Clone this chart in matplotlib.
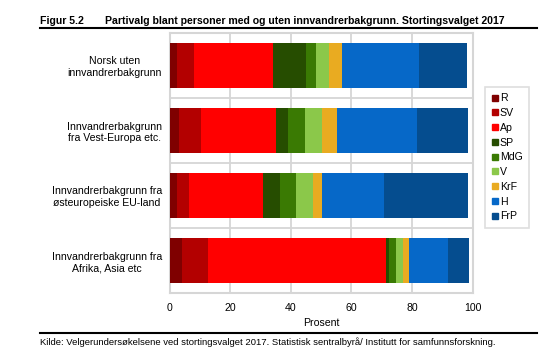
import matplotlib
matplotlib.use("Agg")
import matplotlib.pyplot as plt
from matplotlib.lines import Line2D
import numpy as np

plt.rcParams['font.family'] = ['Liberation Sans', 'DejaVu Sans']

categories = ["Norsk uten\ninnvandrerbakgrunn",
              "Innvandrerbakgrunn\nfra Vest-Europa etc.",
              "Innvandrerbakgrunn fra\nøsteuropeiske EU-land",
              "Innvandrerbakgrunn fra\nAfrika, Asia etc"]
parties = ["R", "SV", "Ap", "SP", "MdG", "V", "KrF", "H", "FrP"]
R   = [2.4, 3.2, 2.4, 4.0]
SV  = [5.8, 7.3, 3.9, 8.8]
Ap  = [25.9, 24.6, 24.5, 58.5]
SP  = [10.8, 3.9, 5.8, 1.3]
MdG = [3.3, 5.7, 5.3, 2.1]
V   = [4.5, 5.5, 5.5, 2.5]
KrF = [4.3, 5.1, 3.0, 2.0]
H   = [25.5, 26.4, 20.4, 12.7]
FrP = [15.8, 16.7, 27.6, 6.9]
series = [R, SV, Ap, SP, MdG, V, KrF, H, FrP]
colors = ["#7f0000", "#b30000", "#ff0000", "#264d00", "#3a7a03",
          "#8bc84a", "#e9ab21", "#0668c8", "#054d8f"]
xticks = [0, 20, 40, 60, 80, 100]

W, H_ = 555, 358
fig = plt.figure(figsize=(W / 100, H_ / 100), dpi=100)
ax = fig.add_axes([169.5 / W, (H_ - 293) / H_, 303 / W, 260 / H_])

y = np.arange(len(categories))
left = np.zeros(len(categories))
for name, vals, c in zip(parties, series, colors):
    ax.barh(y, vals, left=left, height=0.68, color=c, label=name, zorder=3)
    left += np.array(vals)

ax.set_xlim(0, 100)
ax.set_ylim(len(categories) - 0.5, -0.5)
ax.set_xticks(xticks)
ax.set_xticklabels([str(t) for t in xticks], fontsize=7.6)
ax.set_yticks(y)
ax.set_yticklabels(categories, fontsize=7.6)
for t in ax.get_yticklabels():
    t.set_multialignment('center')
ax.set_yticks([0.5, 1.5, 2.5], minor=True)
ax.tick_params(axis='both', which='both', length=0)
ax.tick_params(axis='x', pad=7)
ax.tick_params(axis='y', pad=5.5)
ax.grid(axis='x', color='#d6d6d6', linewidth=1.3, zorder=0)
ax.grid(axis='y', which='minor', color='#d6d6d6', linewidth=1.3, zorder=0)
for s in ax.spines.values():
    s.set_color('#d6d6d6')
    s.set_linewidth(1.5)
ax.set_xlabel("Prosent", fontsize=7.6, labelpad=4)

handles = [Line2D([0], [0], marker='s', linestyle='none', markersize=5,
                  markerfacecolor=c, markeredgecolor=c) for c in colors]
leg = fig.legend(handles, parties, loc='upper left',
                 bbox_to_anchor=(485 / W, 1 - 87 / H_), fontsize=7.6,
                 frameon=True, fancybox=False, handlelength=0.6,
                 handletextpad=0.2, labelspacing=0.45, borderpad=0.6,
                 borderaxespad=0)
leg.get_frame().set_edgecolor('#d6d6d6')
leg.get_frame().set_linewidth(1.2)

fig.text(40 / W, 1 - 20.5 / H_, "Figur 5.2", fontsize=7.6, fontweight='bold',
         va='center', ha='left')
fig.text(105 / W, 1 - 20.5 / H_,
         "Partivalg blant personer med og uten innvandrerbakgrunn. Stortingsvalget 2017",
         fontsize=7.6, fontweight='bold', va='center', ha='left')
fig.add_artist(Line2D([40 / W, 537 / W], [1 - 28.3 / H_, 1 - 28.3 / H_],
                      color='black', linewidth=1.5))
fig.add_artist(Line2D([40 / W, 537 / W], [1 - 333.3 / H_, 1 - 333.3 / H_],
                      color='black', linewidth=1.5))
fig.text(40 / W, 1 - 342 / H_,
         "Kilde: Velgerundersøkelsene ved stortingsvalget 2017. Statistisk sentralbyrå/ Institutt for samfunnsforskning.",
         fontsize=6.8, va='center', ha='left')

fig.savefig("out.png", dpi=100)
